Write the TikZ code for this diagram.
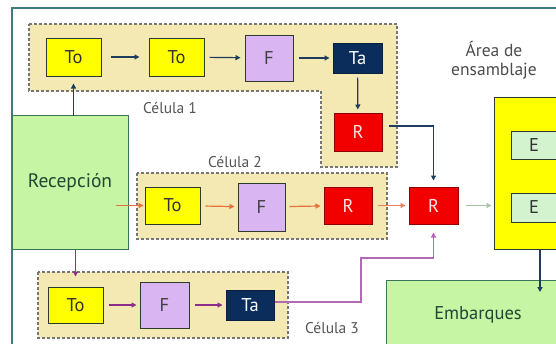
\documentclass[tikz,border=0pt]{standalone}
\usepackage{fontspec}
\setmainfont{PT Sans}
\usetikzlibrary{arrows.meta}
\definecolor{frameteal}{HTML}{3E7A7E}
\definecolor{cellfill}{HTML}{F4E9B2}
\definecolor{celledge}{HTML}{767676}
\definecolor{recfill}{HTML}{C6F5A4}
\definecolor{recedge}{HTML}{3A7558}
\definecolor{boxedge}{HTML}{2E3A2E}
\definecolor{tofill}{HTML}{FFFF00}
\definecolor{ffill}{HTML}{D9B6F2}
\definecolor{tafill}{HTML}{0B2D5C}
\definecolor{rfill}{HTML}{F20000}
\definecolor{efill}{HTML}{D3F3CF}
\definecolor{navyline}{HTML}{1E3D5E}
\definecolor{orangeline}{HTML}{E8703A}
\definecolor{salmonline}{HTML}{E8805E}
\definecolor{sageline}{HTML}{A6C3A4}
\definecolor{purpleline}{HTML}{8E2C8C}
\definecolor{lilacline}{HTML}{B368B3}
\definecolor{labelgray}{HTML}{555555}
\tikzset{
  cell/.style={fill=cellfill, draw=celledge, line width=1.2pt, dash pattern=on 3pt off 2pt},
  unit/.style={draw=boxedge, line width=1pt, inner sep=0pt, font=\fontsize{18.5}{18.5}\selectfont},
  tobox/.style={unit, fill=tofill, text=black!80},
  fbox/.style={unit, fill=ffill, text=black!75},
  tabox/.style={unit, fill=tafill, draw=tafill!70!black, text=white},
  rbox/.style={unit, fill=rfill, draw=rfill!60!black, text=white!90!red},
  ebox/.style={unit, fill=efill, text=black!80},
  area/.style={draw=recedge, line width=1pt, fill=recfill, text=recedge!60!black, inner sep=0pt},
  celllabel/.style={text=labelgray, font=\fontsize{15.5}{15.5}\selectfont, inner sep=0pt},
  tip/.style={-{Triangle[length=5pt,width=5pt]}},
  flow/.style={tip, line width=1.2pt, shorten <=7pt, shorten >=7pt}
}
\begin{document}
\begin{tikzpicture}[x=1pt,y=-1pt]
\useasboundingbox (0,0) rectangle (556,343);
\clip (0,0) rectangle (556,343);
\fill[white] (0,0) rectangle (556,343);

% outer frame of the plant
\draw[frameteal, line width=1.5pt] (12,350) -- (12,8) -- (560,8);

% cell areas
\path[cell] (29,24) -- (397,24) -- (397,167) -- (321,167) -- (321,91) -- (29,91) -- cycle;
\path[cell] (137,173) rectangle (387,239);
\path[cell] (38,272) rectangle (288,338);

% receiving, assembly and shipping areas
\node[area, minimum width=116pt, minimum height=134pt, font=\fontsize{19.5}{19.5}\selectfont] (rec) at (70,182) {\raisebox{2pt}{Recepción}};
\node[draw=boxedge, line width=1pt, fill=tofill, minimum width=76pt, minimum height=152pt, inner sep=0pt] (asm) at (532,173) {};
\node[area, minimum width=184pt, minimum height=70pt, font=\fontsize{18.5}{18.5}\selectfont] (emb) at (478,315) {Embarques};

% cell 1
\node[tobox, minimum width=55pt, minimum height=38pt] (a1) at (73.5,57) {To};
\node[tobox, minimum width=55pt, minimum height=38pt] (a2) at (176.5,57) {To};
\node[fbox, minimum width=48pt, minimum height=46pt] (a3) at (269,58) {F};
\node[tabox, minimum width=49pt, minimum height=30pt] (a4) at (357.5,58) {Ta};
\node[rbox, minimum width=48pt, minimum height=38pt] (a5) at (358,132) {R};

% cell 2
\node[tobox, minimum width=55pt, minimum height=37pt] (b1) at (172.5,205.5) {To};
\node[fbox, minimum width=47pt, minimum height=48pt] (b2) at (261.5,207) {F};
\node[rbox, minimum width=48pt, minimum height=37pt] (b3) at (348,205.5) {R};

% cell 3
\node[tobox, minimum width=55pt, minimum height=36pt] (c1) at (75.5,305) {To};
\node[fbox, minimum width=49pt, minimum height=46pt] (c2) at (164.5,305) {F};
\node[tabox, minimum width=48pt, minimum height=30pt] (c3) at (250,305) {Ta};

% final inspection and assembly stations
\node[rbox, minimum width=49pt, minimum height=37pt] (rm) at (433.5,205.5) {R};
\node[ebox, minimum width=46pt, minimum height=28pt] (e1) at (534,145) {E};
\node[ebox, minimum width=46pt, minimum height=29pt] (e2) at (534,207.5) {E};

% labels
\node[celllabel] (l1) at (170,108) {Célula 1};
\node[celllabel] (l2) at (235,162) {Célula 2};
\node[celllabel] (l3) at (332,328) {Célula 3};
\node[celllabel, text=black!70, font=\fontsize{17.5}{17.5}\selectfont, align=center] (l4) at (494,60) {Área de\\[2pt]ensamblaje};

% cell 1 flow
\draw[flow, navyline] (rec.north -| a1.south) ++(0,8) -- (a1.south);
\draw[flow, navyline, shorten <=9pt, shorten >=9pt] (a1) -- (a2);
\draw[flow, navyline, shorten <=5pt, shorten >=4pt] (a2) -- (a3);
\draw[flow, navyline, shorten <=5pt, shorten >=3pt] (a3) -- (a4);
\draw[flow, navyline, shorten <=4pt, shorten >=3pt] (a4) -- (a5);
\draw[tip, navyline, line width=1.2pt, shorten >=6pt] ([yshift=6pt]a5.east) ++(6,0) -| (rm.north);

% cell 2 flow
\draw[tip, orangeline, line width=1.2pt, shorten >=1pt] (rec.east |- b1) ++(-13,0) -- (b1.west);
\draw[flow, orangeline, shorten <=5pt, shorten >=3pt] (b1) -- (b2);
\draw[flow, orangeline, shorten <=4pt, shorten >=3pt] (b2) -- (b3);
\draw[flow, salmonline, shorten <=5pt, shorten >=3pt] (b3) -- (rm);

% cell 3 flow
\draw[tip, purpleline, line width=1.2pt, shorten >=10pt] (rec.south -| c1.north) -- (c1.north);
\draw[flow, purpleline, shorten <=5pt, shorten >=3pt] (c1) -- (c2);
\draw[flow, purpleline, shorten <=5pt, shorten >=3pt] (c2) -- (c3);
\draw[tip, lilacline, line width=1.2pt, shorten >=8pt] ([yshift=3pt]c3.east) -- (361,302) -- (361,258) -| (rm.south);

% to assembly and shipping
\draw[tip, sageline, line width=1.6pt, shorten <=7pt, shorten >=2pt] (rm.east) -- (rm.east -| asm.west);
\coordinate (drop) at (540,292);
\draw[tip, navyline, line width=2pt] (asm.south -| drop) -- (drop);
\end{tikzpicture}
\end{document}
